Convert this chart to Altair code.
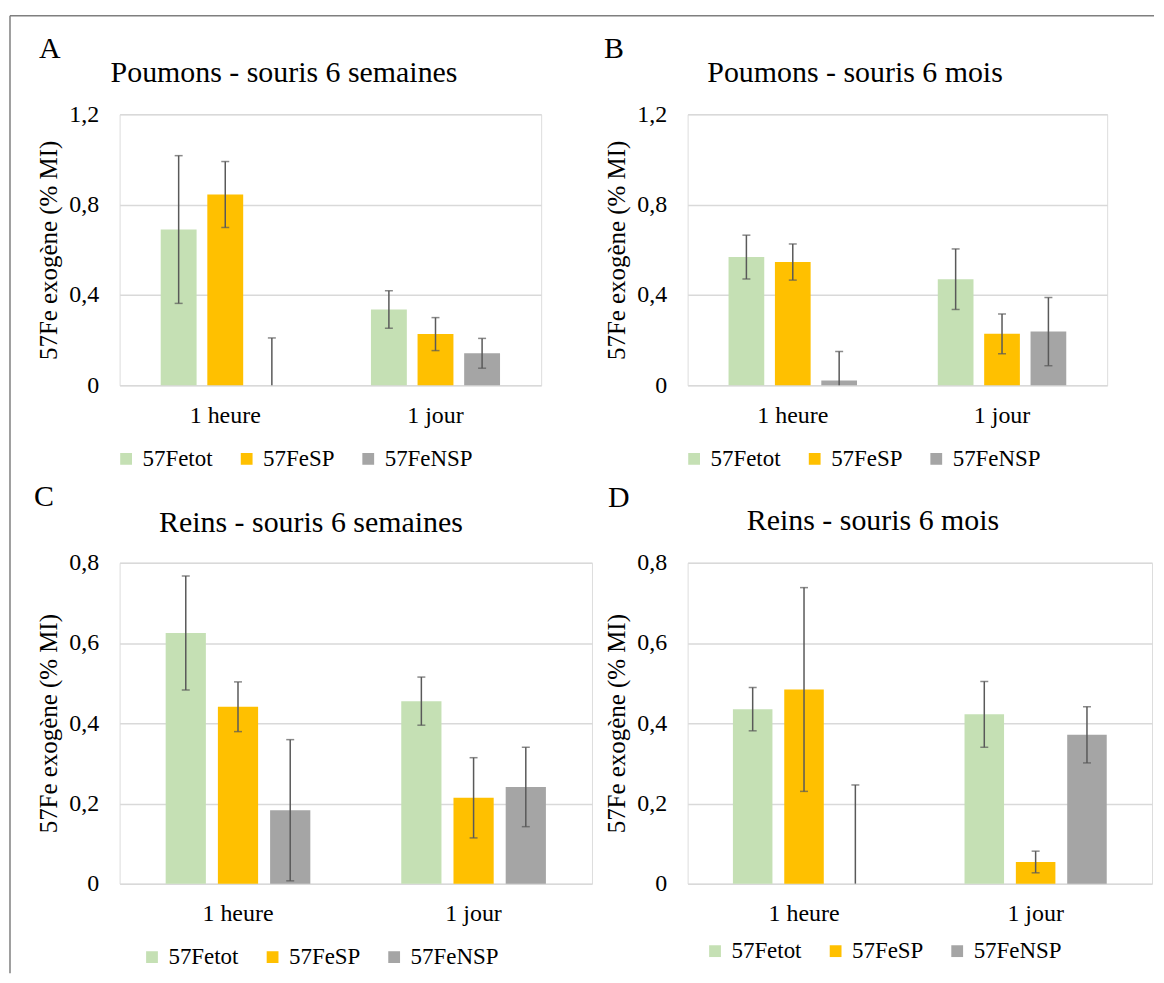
import altair as alt
import pandas as pd

FONT = "Liberation Serif"

categories = ["1 heure", "1 jour"]
series = ["57Fetot", "57FeSP", "57FeNSP"]
colors = ["#C5E0B4", "#FFC000", "#A5A5A5"]

# Panel A - Poumons, souris 6 semaines  (values per series: [1 heure, 1 jour])
a_fetot = [0.690, 0.336]
a_fesp = [0.845, 0.227]
a_fensp = [0.000, 0.142]
a_fetot_err = [0.327, 0.083]
a_fesp_err = [0.146, 0.073]
a_fensp_err = [0.210, 0.066]

# Panel B - Poumons, souris 6 mois
b_fetot = [0.568, 0.470]
b_fesp = [0.546, 0.228]
b_fensp = [0.022, 0.238]
b_fetot_err = [0.097, 0.134]
b_fesp_err = [0.080, 0.088]
b_fensp_err = [0.128, 0.151]

# Panel C - Reins, souris 6 semaines
c_fetot = [0.625, 0.455]
c_fesp = [0.441, 0.214]
c_fensp = [0.183, 0.241]
c_fetot_err = [0.142, 0.060]
c_fesp_err = [0.062, 0.100]
c_fensp_err = [0.176, 0.099]

# Panel D - Reins, souris 6 mois
d_fetot = [0.435, 0.422]
d_fesp = [0.484, 0.054]
d_fensp = [0.000, 0.371]
d_fetot_err = [0.054, 0.082]
d_fesp_err = [0.254, 0.027]
d_fensp_err = [0.246, 0.070]

y_title = "57Fe exogène (% MI)"
LABEL_EXPR = "datum.value == 0 ? '0' : replace(format(datum.value, '.1f'), '.', ',')"
ERR_COLOR = "#595959"


def panel(letter, title, vals, errs, ymax, yticks, width, height,
          legend_xy, letter_xy, title_xy, border=False):
    rows = []
    for s, vl, el in zip(series, vals, errs):
        for c, v, e in zip(categories, vl, el):
            rows.append({"time": c, "series": s, "value": v,
                         "lo": max(0.0, v - e), "hi": v + e,
                         "lowcap": bool(v - e >= 0)})
    df = pd.DataFrame(rows)

    x = alt.X("time:N", sort=categories,
              scale=alt.Scale(paddingInner=0.335, paddingOuter=0.17),
              axis=alt.Axis(title=None, labelAngle=0, domain=False, ticks=False,
                            labelPadding=18))
    xo = alt.XOffset("series:N", sort=series,
                     scale=alt.Scale(paddingInner=0.23, paddingOuter=0.115))
    y_axis = alt.Axis(values=yticks, title=y_title, labelExpr=LABEL_EXPR,
                      domain=False, ticks=False, tickSize=0, labelPadding=21,
                      grid=True, gridColor="#D9D9D9", gridWidth=1.5,
                      titlePadding=7)
    y_scale = alt.Scale(domain=[0, ymax], nice=False)

    def yenc(field):
        return alt.Y(f"{field}:Q", scale=y_scale, axis=y_axis)

    color = alt.Color("series:N", sort=series,
                      scale=alt.Scale(domain=series, range=colors),
                      legend=alt.Legend(orient="none", legendX=legend_xy[0],
                                        legendY=legend_xy[1], direction="horizontal",
                                        title=None, symbolType="square",
                                        symbolSize=140, symbolStrokeWidth=0,
                                        labelFontSize=23, labelFont=FONT,
                                        labelColor="#000000", columnPadding=22,
                                        labelOffset=5, padding=0))

    base = alt.Chart(df)
    bars = base.mark_bar().encode(x=x, xOffset=xo, y=yenc("value"), color=color)
    err = base.mark_rule(color=ERR_COLOR, strokeWidth=1.5).encode(
        x=x, xOffset=xo, y=yenc("lo"), y2="hi:Q")
    cap_hi = base.mark_tick(color=ERR_COLOR, thickness=1.5, size=8).encode(
        x=x, xOffset=xo, y=yenc("hi"))
    cap_lo = base.transform_filter("datum.lowcap").mark_tick(
        color=ERR_COLOR, thickness=1.5, size=8).encode(x=x, xOffset=xo, y=yenc("lo"))

    lab = pd.DataFrame({"t": [letter], "title": [title]})
    letter_layer = alt.Chart(lab).mark_text(
        align="left", baseline="alphabetic", fontSize=30, font=FONT, color="#000000"
    ).encode(text="t:N", x=alt.value(letter_xy[0]), y=alt.value(letter_xy[1]))
    title_layer = alt.Chart(lab).mark_text(
        align="center", baseline="alphabetic", fontSize=30, font=FONT, color="#000000"
    ).encode(text="title:N", x=alt.value(title_xy[0]), y=alt.value(title_xy[1]))

    layers = [bars, err, cap_hi, cap_lo, letter_layer, title_layer]
    if border:
        bdf = pd.DataFrame({"k": [0]})
        top = alt.Chart(bdf).mark_rule(color="#7F7F7F", strokeWidth=1.5).encode(
            x=alt.value(-110), x2=alt.value(1038), y=alt.value(-99), y2=alt.value(-99))
        left = alt.Chart(bdf).mark_rule(color="#7F7F7F", strokeWidth=1.5).encode(
            x=alt.value(-110), x2=alt.value(-110), y=alt.value(-99), y2=alt.value(862))
        layers += [top, left]

    return alt.layer(*layers).properties(width=width, height=height)


pA = panel("A", "Poumons - souris 6 semaines",
           [a_fetot, a_fesp, a_fensp], [a_fetot_err, a_fesp_err, a_fensp_err],
           1.2, [0, 0.4, 0.8, 1.2], 423, 272, (-5, 334), (-81, -57), (165, -32),
           border=True)
pB = panel("B", "Poumons - souris 6 mois",
           [b_fetot, b_fesp, b_fensp], [b_fetot_err, b_fesp_err, b_fensp_err],
           1.2, [0, 0.4, 0.8, 1.2], 421, 272, (-5, 334), (-84, -57), (168, -32))
pC = panel("C", "Reins - souris 6 semaines",
           [c_fetot, c_fesp, c_fensp], [c_fetot_err, c_fesp_err, c_fensp_err],
           0.8, [0, 0.2, 0.4, 0.6, 0.8], 474, 322, (21, 384), (-86, -57), (192, -31))
pD = panel("D", "Reins - souris 6 mois",
           [d_fetot, d_fesp, d_fensp], [d_fetot_err, d_fesp_err, d_fensp_err],
           0.8, [0, 0.2, 0.4, 0.6, 0.8], 466, 322, (16, 378), (-80, -56), (186, -33))

chart = alt.concat(pA, pB, pC, pD, columns=2, align="each", bounds="flush",
                   spacing={"row": 178, "column": 96}).resolve_scale(
    x="independent", y="independent", color="independent", xOffset="independent"
).resolve_legend(color="independent").properties(
    padding={"left": 0, "top": 4, "right": 0, "bottom": 0},
    background="white"
).configure_view(stroke=None).configure(font=FONT).configure_axis(
    labelFont=FONT, titleFont=FONT, labelFontSize=24, titleFontSize=25,
    labelColor="#000000", titleColor="#000000", titleFontWeight="normal"
)

chart.save("out.html", embed_options={"renderer": "svg", "actions": False})
